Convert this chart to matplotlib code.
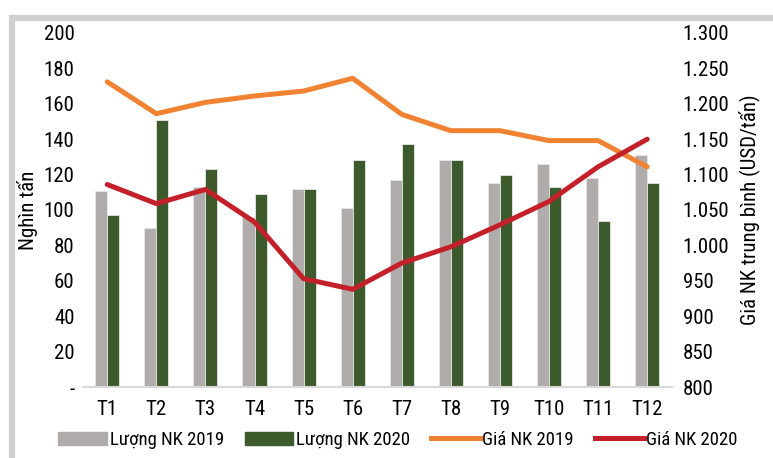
import matplotlib.pyplot as plt
import numpy as np
from matplotlib.patches import Patch, Rectangle
from matplotlib.lines import Line2D

plt.rcParams['font.family'] = ['Roboto Condensed', 'Open Sans Condensed', 'DejaVu Sans']

# Data
months = ['T1', 'T2', 'T3', 'T4', 'T5', 'T6', 'T7', 'T8', 'T9', 'T10', 'T11', 'T12']
luong_2019 = [111, 90, 113, 96, 112, 101, 117, 128, 115, 126, 118, 131]
luong_2020 = [97, 151, 123, 109, 112, 128, 137, 128, 120, 113, 94, 115]
gia_2019 = [1231, 1186, 1202, 1211, 1218, 1236, 1185, 1162, 1162, 1148, 1148, 1111]
gia_2020 = [1086, 1059, 1079, 1033, 953, 938, 975, 998, 1029, 1062, 1111, 1150]

left_ticks = [0, 20, 40, 60, 80, 100, 120, 140, 160, 180, 200]
left_labels = ['-'] + [str(v) for v in left_ticks[1:]]
right_ticks = [800, 850, 900, 950, 1000, 1050, 1100, 1150, 1200, 1250, 1300]
right_labels = ['800', '850', '900', '950', '1.000', '1.050', '1.100',
                '1.150', '1.200', '1.250', '1.300']

c_gray = '#b0acab'
c_green = '#3d5a2c'
c_orange = '#f08232'
c_red = '#c4202a'
fs = 15

fig = plt.figure(figsize=(7.73, 4.58), dpi=100)
# frame of the original image (cut on right and bottom)
fig.patches.append(Rectangle((11.5 / 773, -0.1), 1.2, (458 - 18) / 458 + 0.1,
                             transform=fig.transFigure, fill=False,
                             edgecolor='#d0d0d0', linewidth=4.5))

ax = fig.add_axes([0.107, 0.155, 0.762, 0.773])
x = np.arange(len(months))
w = 0.245
ax.bar(x - w / 2, luong_2019, w, color=c_gray, edgecolor='#e6e6e6', linewidth=0.6)
ax.bar(x + w / 2, luong_2020, w, color=c_green, edgecolor='#e6e6e6', linewidth=0.6)
ax.set_xlim(-0.5, len(months) - 0.5)
ax.set_ylim(0, 200)
ax.set_yticks(left_ticks)
ax.set_yticklabels(left_labels)
ax.set_xticks(x)
ax.set_xticklabels(months)
for s in ['top', 'right', 'left']:
    ax.spines[s].set_visible(False)
ax.spines['bottom'].set_color('#d9d9d9')
ax.spines['bottom'].set_linewidth(1.5)
ax.tick_params(length=0, labelsize=fs, pad=6)
ax.tick_params(axis='x', pad=9)
ax.set_ylabel('Nghìn tấn', fontsize=fs, labelpad=4)

ax2 = ax.twinx()
ax2.plot(x, gia_2019, color=c_orange, linewidth=3.6, solid_capstyle='round')
ax2.plot(x, gia_2020, color=c_red, linewidth=3.6, solid_capstyle='round')
ax2.set_ylim(800, 1300)
ax2.set_yticks(right_ticks)
ax2.set_yticklabels(right_labels)
for s in ['top', 'right', 'left', 'bottom']:
    ax2.spines[s].set_visible(False)
ax2.tick_params(length=0, labelsize=fs, pad=8)
ax2.set_ylabel('Giá NK trung bình (USD/tấn)', fontsize=fs, rotation=90, labelpad=6)

handles = [Patch(color=c_gray), Patch(color=c_green),
           Line2D([], [], color=c_orange, linewidth=3.6),
           Line2D([], [], color=c_red, linewidth=3.6)]
labels = ['Lượng NK 2019', 'Lượng NK 2020', 'Giá NK 2019', 'Giá NK 2020']
fig.legend(handles, labels, loc='center', bbox_to_anchor=(398 / 773, 1 - 440 / 458),
           ncol=4, frameon=False, fontsize=13.5, handlelength=2.6, handleheight=0.7,
           handletextpad=0.15, columnspacing=1.1)

plt.savefig('out.png', dpi=100)
